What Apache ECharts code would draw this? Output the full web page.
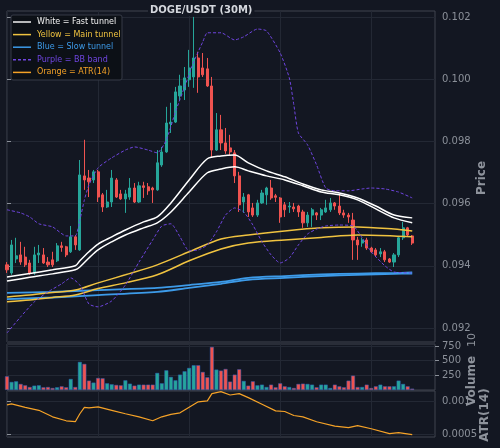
<!DOCTYPE html>
<html>
<head>
<meta charset="utf-8">
<script src="https://cdn.jsdelivr.net/npm/echarts@6.0.0/dist/echarts.min.js"></script>
<style>
  html, body { margin: 0; padding: 0; background: #131722; }
  #chart { width: 500px; height: 448px; }
</style>
</head>
<body>
<div id="chart"></div>
<script>
// candles: [open, close, low, high]
const candles = [
  [0.09403,0.09387,0.09377,0.09412],[0.09377,0.09467,0.09371,0.09483],[0.09422,0.09432,0.09409,0.09490],
  [0.09435,0.09412,0.09403,0.09477],[0.09428,0.09403,0.09396,0.09461],[0.09409,0.09377,0.09371,0.09419],
  [0.09377,0.09435,0.09371,0.09461],[0.09435,0.09441,0.09409,0.09467],[0.09435,0.09409,0.09406,0.09457],
  [0.09412,0.09403,0.09396,0.09428],[0.09419,0.09403,0.09396,0.09445],[0.09416,0.09464,0.09412,0.09473],
  [0.09464,0.09459,0.09445,0.09477],[0.09461,0.09435,0.09428,0.09464],[0.09445,0.09493,0.09441,0.09528],
  [0.09493,0.09467,0.09451,0.09499],[0.09451,0.09692,0.09448,0.09740],[0.09689,0.09676,0.09644,0.09805],
  [0.09682,0.09670,0.09621,0.09708],[0.09676,0.09702,0.09666,0.09708],[0.09702,0.09621,0.09605,0.09708],
  [0.09628,0.09589,0.09573,0.09634],[0.09589,0.09605,0.09586,0.09644],[0.09605,0.09682,0.09589,0.09708],
  [0.09676,0.09621,0.09618,0.09682],[0.09631,0.09615,0.09612,0.09644],[0.09615,0.09631,0.09570,0.09644],
  [0.09621,0.09650,0.09612,0.09682],[0.09650,0.09605,0.09602,0.09666],[0.09605,0.09657,0.09602,0.09670],
  [0.09657,0.09652,0.09618,0.09670],[0.09654,0.09641,0.09628,0.09666],[0.09650,0.09644,0.09602,0.09654],
  [0.09644,0.09731,0.09641,0.09772],[0.09724,0.09766,0.09718,0.09782],[0.09766,0.09859,0.09763,0.09911],
  [0.09856,0.09862,0.09827,0.09924],[0.09862,0.09959,0.09859,0.09975],[0.09946,0.09978,0.09933,0.10014],
  [0.09965,0.10004,0.09933,0.10039],[0.09998,0.10036,0.09975,0.10094],[0.10007,0.10068,0.09972,0.10200],
  [0.10068,0.10007,0.09956,0.10088],[0.10036,0.10014,0.10007,0.10084],[0.10033,0.09978,0.09975,0.10068],
  [0.09978,0.09772,0.09750,0.10007],[0.09772,0.09837,0.09769,0.09891],[0.09837,0.09795,0.09772,0.09885],
  [0.09795,0.09769,0.09760,0.09843],[0.09779,0.09766,0.09756,0.09821],[0.09763,0.09689,0.09666,0.09772],
  [0.09689,0.09596,0.09573,0.09702],[0.09605,0.09621,0.09570,0.09634],[0.09628,0.09573,0.09557,0.09631],
  [0.09586,0.09563,0.09557,0.09602],[0.09563,0.09602,0.09557,0.09612],[0.09602,0.09634,0.09599,0.09644],
  [0.09628,0.09650,0.09596,0.09654],[0.09650,0.09618,0.09612,0.09676],[0.09625,0.09620,0.09605,0.09631],
  [0.09618,0.09557,0.09538,0.09621],[0.09596,0.09580,0.09557,0.09605],[0.09589,0.09592,0.09570,0.09605],
  [0.09589,0.09583,0.09573,0.09602],[0.09592,0.09573,0.09557,0.09596],[0.09573,0.09538,0.09522,0.09580],
  [0.09538,0.09563,0.09525,0.09573],[0.09563,0.09580,0.09525,0.09586],[0.09570,0.09563,0.09547,0.09573],
  [0.09563,0.09580,0.09547,0.09586],[0.09573,0.09586,0.09570,0.09612],[0.09580,0.09602,0.09573,0.09618],
  [0.09602,0.09592,0.09580,0.09605],[0.09592,0.09570,0.09563,0.09628],[0.09570,0.09563,0.09554,0.09580],
  [0.09563,0.09557,0.09538,0.09570],[0.09547,0.09483,0.09419,0.09570],[0.09483,0.09467,0.09419,0.09493],
  [0.09473,0.09483,0.09461,0.09490],[0.09483,0.09457,0.09451,0.09490],[0.09457,0.09445,0.09441,0.09461],
  [0.09451,0.09435,0.09428,0.09457],[0.09438,0.09445,0.09428,0.09457],[0.09445,0.09419,0.09412,0.09451],
  [0.09422,0.09412,0.09409,0.09425],[0.09412,0.09435,0.09396,0.09441],[0.09435,0.09490,0.09428,0.09493],
  [0.09490,0.09522,0.09483,0.09541],[0.09522,0.09499,0.09493,0.09525],[0.09496,0.09473,0.09467,0.09499]
];

const volumes = [
  235,138,149,104,81,52,75,81,47,52, 35,47,64,47,189,52,480,446,161,127,
  206,201,115,98,87,81,166,109,75,92, 92,92,92,292,115,337,224,166,263,320,
  377,423,423,309,218,736,349,332,360,144, 263,355,155,75,149,81,92,52,92,47,
  115,64,52,35,104,109,104,92,47,92, 92,35,92,64,47,161,246,52,52,92,
  35,64,92,64,64,64,161,104,64,24
];

// overlay lines, read at sampled candle positions
const fastX = [0,5,10,15,16,18,20,23,26,30,33,36,40,44,47,50,53,57,61,65,69,73,77,81,85,89];
const fastHigh = [0.09364,0.09375,0.09387,0.09400,0.09416,0.09445,0.09470,0.09493,0.09515,0.09541,0.09557,0.09602,0.09676,
  0.09744,0.09753,0.09756,0.09731,0.09705,0.09686,0.09663,0.09644,0.09634,0.09618,0.09592,0.09563,0.09554];
const fastLow = [0.09351,0.09363,0.09374,0.09387,0.09396,0.09425,0.09451,0.09477,0.09499,0.09522,0.09538,0.09573,0.09637,
  0.09699,0.09711,0.09718,0.09705,0.09689,0.09676,0.09657,0.09637,0.09628,0.09612,0.09583,0.09554,0.09538];

const mainX = [0,5,10,15,20,26,33,40,47,53,61,69,77,85,89];
const mainHigh = [0.09300,0.09306,0.09314,0.09322,0.09345,0.09371,0.09403,0.09445,0.09486,0.09499,0.09512,0.09522,0.09525,0.09518,0.09512];
const mainLow = [0.09284,0.09290,0.09298,0.09306,0.09327,0.09345,0.09371,0.09416,0.09454,0.09473,0.09483,0.09491,0.09499,0.09496,0.09493];

const slowX = [0,10,20,33,40,47,53,61,69,77,85,89];
const slowHigh = [0.09313,0.09316,0.09322,0.09329,0.09338,0.09348,0.09361,0.09367,0.09372,0.09375,0.09377,0.09379];
const slowLow = [0.09293,0.09298,0.09306,0.09316,0.09329,0.09342,0.09355,0.09361,0.09367,0.09371,0.09374,0.09375];

const bbUpperX = [0,3,5,7,10,13,15,16,17,18,20,23,26,28,31,33,35,37,39,41,43,44,47,50,52,55,57,60,62,63,64,66,68,70,72,75,78,80,83,86,89];
const bbUpper = [0.09580,0.09570,0.09557,0.09535,0.09525,0.09496,0.09496,0.09547,0.09612,0.09660,0.09715,0.09747,0.09772,0.09782,
  0.09772,0.09763,0.09805,0.09895,0.09975,0.10055,0.10120,0.10149,0.10149,0.10126,0.10136,0.10161,0.10155,0.10084,0.10004,
  0.09917,0.09827,0.09789,0.09724,0.09650,0.09641,0.09641,0.09647,0.09650,0.09647,0.09637,0.09618];
const bbLowerX = [0,3,6,9,12,14,16,18,20,23,26,29,32,34,36,38,40,42,44,46,48,50,52,54,56,58,60,62,64,66,68,70,73,76,78,80,83,85,89];
const bbLower = [0.09184,0.09236,0.09284,0.09316,0.09342,0.09361,0.09338,0.09277,0.09268,0.09287,0.09338,0.09412,0.09483,0.09528,
  0.09535,0.09493,0.09448,0.09451,0.09467,0.09509,0.09563,0.09586,0.09573,0.09531,0.09477,0.09435,0.09409,0.09425,0.09467,
  0.09502,0.09518,0.09528,0.09531,0.09528,0.09490,0.09445,0.09400,0.09380,0.09377];

const atrX = [0,1,4,7,10,13,15,16,17,18,20,23,26,29,32,34,36,38,40,42,44,45,47,49,51,53,56,59,61,63,65,68,72,75,77,80,84,86,89];
const atr = [0.00095,0.000966,0.000913,0.000868,0.00077,0.00071,0.000696,0.000816,0.000913,0.000906,0.00092,0.000868,0.000816,
  0.00077,0.00071,0.00077,0.000808,0.00083,0.000913,0.000996,0.00101,0.00112,0.00115,0.0011,0.00112,0.00106,0.00096,0.00086,
  0.00085,0.00079,0.00077,0.000696,0.00063,0.000606,0.000636,0.00059,0.000516,0.00053,0.0005];

const priceTicks = [0.092, 0.094, 0.096, 0.098, 0.100, 0.102];
const volumeTicks = [250, 500, 750];
const atrTicks = [0.0005, 0.001];

const slotCount = 95;
const slots = Array.from({ length: slotCount }, (_, i) => i);

const UP = '#26a69a';
const DOWN = '#ef5350';
const TEXT = '#8b9099';
const GRIDLINE = '#232834';
const FONT = 'DejaVu Sans';

const pairs = (xs, ys) => xs.map((x, k) => [x, ys[k]]);

function catAxis(gridIndex) {
  return {
    type: 'category', gridIndex, data: slots, boundaryGap: false,
    axisLine: { show: false }, axisTick: { show: false }, axisLabel: { show: false },
    splitLine: { show: true, interval: 19, lineStyle: { color: GRIDLINE, width: 1 } }
  };
}

function valueX(gridIndex) {
  return {
    type: 'value', gridIndex, min: 0, max: slotCount - 1, show: false,
    splitLine: { show: false }
  };
}

function rightAxis(gridIndex, extra, ticks, fmt) {
  return Object.assign({
    type: 'value', gridIndex, position: 'right', scale: true,
    axisLine: { show: false },
    axisTick: { show: true, length: 4, customValues: ticks, lineStyle: { color: TEXT } },
    axisLabel: { color: TEXT, fontSize: 10, fontFamily: FONT, margin: 7, customValues: ticks, formatter: fmt },
    splitLine: { show: true, lineStyle: { color: GRIDLINE, width: 1 } }
  }, extra);
}

function lineSeries(data, color, width, opts) {
  return Object.assign({
    type: 'line', xAxisIndex: 3, yAxisIndex: 0, data, showSymbol: false, symbol: 'none',
    smooth: 0.3, z: 5, silent: true,
    lineStyle: { color, width }
  }, opts || {});
}

const legendRows = [
  { label: 'White = Fast tunnel', color: '#f2f2f2', dash: null },
  { label: 'Yellow = Main tunnel', color: '#f0c340', dash: null },
  { label: 'Blue = Slow tunnel', color: '#3d9be9', dash: null },
  { label: 'Purple = BB band', color: '#6f45e0', dash: [3, 2] },
  { label: 'Orange = ATR(14)', color: '#f5a227', dash: null }
];

const graphics = [
  { type: 'rect', shape: { x: 11, y: 15, width: 111, height: 65, r: 2 },
    style: { fill: 'rgba(12,15,21,0.9)', stroke: '#363b47', lineWidth: 1 }, z: 20 }
];
legendRows.forEach((row, k) => {
  const y = 22 + k * 12.6;
  graphics.push({ type: 'line', shape: { x1: 13, y1: y, x2: 31, y2: y },
    style: { stroke: row.color, lineWidth: 1.5, lineDash: row.dash }, z: 21 });
  graphics.push({ type: 'text', x: 37, y: y,
    style: { text: row.label, fill: row.color, font: '8px "DejaVu Sans"', verticalAlign: 'middle' }, z: 21 });
});
const sideLabels = [
  { text: 'Price', x: 482, y: 178, bold: true },
  { text: '10', x: 472, y: 340, bold: false },
  { text: 'Volume', x: 472, y: 381, bold: true },
  { text: 'ATR(14)', x: 485, y: 415, bold: true }
];
sideLabels.forEach(s => {
  graphics.push({ type: 'text', x: s.x, y: s.y, rotation: Math.PI / 2,
    style: { text: s.text, fill: '#8e939c', font: (s.bold ? 'bold 12px' : '11px') + ' "DejaVu Sans"',
      align: 'center', verticalAlign: 'middle' }, z: 22 });
});

const chart = echarts.init(document.getElementById('chart'), null, { renderer: 'canvas' });

chart.setOption({
  backgroundColor: '#131722',
  animation: false,
  title: {
    text: 'DOGE/USDT (30M)', left: 148, top: 4, padding: [1, 2],
    backgroundColor: '#131722',
    textStyle: { color: '#d4d7dd', fontSize: 10, fontWeight: 'bold', fontFamily: FONT }
  },
  grid: [
    { left: 7, top: 11, width: 428, height: 331, show: true, borderColor: '#40454f', borderWidth: 1, backgroundColor: 'transparent' },
    { left: 7, top: 344, width: 428, height: 46, show: true, borderColor: '#40454f', borderWidth: 1, backgroundColor: 'transparent' },
    { left: 7, top: 391, width: 428, height: 46, show: true, borderColor: '#40454f', borderWidth: 1, backgroundColor: 'transparent' }
  ],
  xAxis: [catAxis(0), catAxis(1), catAxis(2), valueX(0), valueX(2)],
  yAxis: [
    rightAxis(0, { min: 0.09155, max: 0.10219, splitNumber: 5 }, priceTicks, v => v.toFixed(3)),
    rightAxis(1, { min: 0, max: 785, interval: 250 }, volumeTicks, v => String(v)),
    rightAxis(2, { min: 0.000465, max: 0.00116, splitNumber: 1 }, atrTicks, v => String(+v.toFixed(6)))
  ],
  graphic: graphics,
  series: [
    {
      type: 'candlestick', xAxisIndex: 0, yAxisIndex: 0, data: candles, barWidth: 2.6, clip: true, z: 3,
      itemStyle: { color: UP, color0: DOWN, borderColor: UP, borderColor0: DOWN, borderWidth: 1 }
    },
    {
      type: 'bar', xAxisIndex: 1, yAxisIndex: 1, barWidth: '88%', clip: true,
      data: volumes.map((v, i) => ({
        value: v,
        itemStyle: { color: candles[i][1] >= candles[i][0] ? UP : DOWN }
      })),
      itemStyle: { borderColor: 'rgba(45,95,190,0.8)', borderWidth: 0.6 }
    },
    lineSeries(pairs(slowX, slowHigh), '#3d9be9', 1.8),
    lineSeries(pairs(slowX, slowLow), '#3d9be9', 1.8),
    lineSeries(pairs(mainX, mainHigh), '#f0c340', 1.5),
    lineSeries(pairs(mainX, mainLow), '#f0c340', 1.5),
    lineSeries(pairs(fastX, fastHigh), '#ffffff', 1.5),
    lineSeries(pairs(fastX, fastLow), '#ffffff', 1.5),
    lineSeries(pairs(bbUpperX, bbUpper), '#6f45e0', 1, { smooth: 0.2, lineStyle: { color: '#6f45e0', width: 1, type: [3, 2] } }),
    lineSeries(pairs(bbLowerX, bbLower), '#6f45e0', 1, { smooth: 0.2, lineStyle: { color: '#6f45e0', width: 1, type: [3, 2] } }),
    lineSeries(pairs(atrX, atr), '#f5a227', 1.2, { xAxisIndex: 4, yAxisIndex: 2, smooth: false })
  ]
});
</script>
</body>
</html>
